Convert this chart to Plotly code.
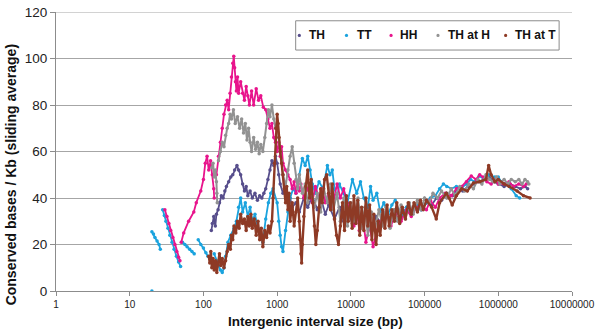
import plotly.graph_objects as go

# ---------------- data ----------------
x_tick_vals = [1, 10, 100, 1000, 10000, 100000, 1000000, 10000000]
x_tick_text = ["1", "10", "100", "1000", "10000", "100000", "1000000", "10000000"]
y_tick_vals = [0, 20, 40, 60, 80, 100, 120]

series_names = ["TH", "TT", "HH", "TH at H", "TH at T"]
series_colors = ["#574E8C", "#1AA3DE", "#E8148C", "#929292", "#8E3A25"]

th_x = [128, 132, 138, 145, 150, 158, 165, 175, 185, 195, 205,
        220, 235, 250, 265, 285, 300, 320, 340, 360, 380,
        400, 430, 460, 500, 540, 580, 620, 660, 700, 750,
        800, 850, 900, 950, 1000, 1050, 1100, 1200, 1300, 1400,
        1500, 1600, 1800, 2000, 2300, 2600, 3000, 3500, 4000, 4500,
        5000, 6000, 7000, 8000, 9000, 10500, 12000, 14000, 16000, 19000,
        22000, 26000, 30000, 35000, 40000, 48000, 57000, 66000, 78000, 90000,
        106000, 125000, 145000, 170000, 200000, 240000, 280000, 330000, 390000, 460000,
        540000, 640000, 750000, 880000, 1000000, 1200000, 1450000, 1700000, 2000000, 2300000,
        2500000]
th_y = [26, 29, 32, 28, 33, 35, 38, 41, 40, 43, 45,
        47, 49, 50, 52, 54, 52, 50, 46, 43, 45,
        41, 43, 40, 42, 39, 41, 40, 42, 44, 48,
        52, 56, 54, 58, 55, 50, 46, 42, 44, 38,
        40, 36, 38, 34, 40, 36, 41, 35, 39, 33,
        37, 31, 36, 30, 35, 29, 34, 28, 33, 27,
        32, 29, 34, 30, 35, 31, 36, 33, 37, 35,
        38, 37, 40, 39, 42, 41, 44, 43, 45, 46,
        47, 48, 49, 47, 46, 45, 46, 45, 44, 45,
        44]

tt_x = [20, None,
        20, 21, 22, 23.5, 25, 26, None,
        28, 29.5, 31, 33, 35, 37.5, 40, 43, 46, 49, None,
        52, 56, 60, 65, 70, 75, None,
        85, 92, 100, 108, 115, 125, None,
        140, 150, 160, 170, 180, 190, 200, 215, 235, 260, 280,
        300, 320, 340, 370, 400, 430, 460, 500, 550, 600, 640,
        700, 760, 820, 880,
        1000, 1050, 1100, 1150, 1200,
        1300, 1400, 1500, 1650, 1800,
        2000, 2200, 2400, 2600, 2800, 3000,
        3300, 3700, 4200,
        4800, 5200, 5600,
        6000, 6500, 7000,
        8000, 9000,
        10500, 12000, 13500, 15000,
        17000, 18500, 20000, 22500, 25000, 28000,
        32000, 36000, 40000, 44000,
        50000, 57000, 66000, 78000, 90000,
        106000, 120000,
        140000, 160000, 180000, 200000, 230000, 270000,
        320000, 370000, 420000, 480000,
        550000, 650000, 750000, 900000,
        1000000, 1100000, 1250000, 1500000, 1750000, 1950000]
tt_y = [0, None,
        25.5, 24.5, 23, 21.5, 20, 18, None,
        35, 32.5, 30, 27, 24, 21, 18, 15, 12.5, 10.5, None,
        21, 20, 19, 18, 17, 16, None,
        22, 20, 18.5, 16.5, 15, 14, None,
        16, 13, 11, 9, 8, 10, 15, 21, 24, 27, 30,
        36, 40, 34, 38, 32, 36, 30, 33, 27, 24, 21,
        31, 38, 42, 44,
        38, 30, 24, 19, 17,
        26, 34, 40, 44, 42,
        50, 57, 54, 58, 52, 46,
        42, 47, 44,
        54, 50, 52,
        44, 40, 46,
        42, 38,
        48, 42, 47, 40,
        36, 45, 39, 42, 34, 38,
        33, 37, 39, 35,
        33, 36, 34, 37, 35,
        38, 40,
        41, 44, 46, 45, 44, 45,
        44.5, 46, 48, 47,
        49.5, 48, 50, 49,
        49, 47, 46, 44, 41, 40]

hh_x = [30, 32, 34, 36, 38.5, 41, 43.5, 46, 48, None,
        50, 54, 63, 74, 80, 92, 100, 106, 112, 118, 125, 132, 138, 140, None,
        150, 160, 170, 180, 190, 200, 210, 220, 230, 240,
        250, 258, 265, 272, 280, 290, 300,
        320, 340, 360, 380, 400, 420,
        450, 480, 520, 560, 600, 650,
        700, 750, 800, 850, 900, 950, 1000,
        1050, 1100, 1150, 1200, 1300, 1400,
        1500, 1600, 1700, 1800, 1900, 2000, 2100,
        2300, 2600, 3000, 3300, 3700, 4100, 4500,
        5000, 5600, 6500, 7200, 8000, 8900,
        10000, 11000, 12000, 13000, 14500, 16000, 18000, 20000, 22500, 25000,
        30000, 35000, 40000, 48000, 57000, 66000, 78000,
        90000, 106000, 120000, 140000, 160000,
        190000, 230000, 270000, 320000, 370000, 430000, 500000,
        560000, 620000, 700000, 800000, 900000, 1000000,
        1200000, 1400000, 1600000, 1900000, 2200000, 2400000]
hh_y = [35, 32, 29, 26, 23, 20, 17, 14.5, 13, None,
        21, 25, 30, 34, 38, 43, 48, 55, 58, 52, 56, 50, 44, 40, None,
        50, 58, 64, 70, 76, 80, 82, 78, 85, 92,
        98, 101, 96, 90, 86, 92, 85,
        90, 85, 82, 88, 84, 80,
        86, 80, 87, 82, 84, 79,
        78, 74, 70, 72, 66, 64, 60,
        64, 58, 62, 55, 52, 50,
        48, 44, 47, 42, 45, 43, 46,
        40, 44, 38, 45, 40, 44, 38,
        42, 36, 46, 40, 44, 38,
        34, 28, 36, 26, 32, 21, 28, 19, 26, 30,
        34, 28, 33, 30, 35, 32, 36,
        37, 35, 39, 36, 40,
        42, 41, 44, 45, 47, 49.5, 48,
        50, 49, 47, 46, 48, 46,
        46, 47, 45, 46, 45, 46]

thh_x = [130, 135, 140, 145, 150, 152, 154, None,
         160, 170, 180, 190, 200, 210, 220, 230, 240, 255,
         270, 290, 310, 330, 350, 370, 390, 410, 430, 450,
         480, 510, 540, 570, 600, 640, 680, 720, 760, 800,
         850, 900, 950, 1000, 1050, 1100, 1150, 1200, 1300, 1400,
         1500, 1600, 1700, 1800, 1900, 2000, 2200, 2400, 2600, 2900,
         3200, 3500, 3900, 4300, 4800, 5300, 5800, 6500, 7200, 8000,
         9000, 10000, 11000, 12500, 14000, 15500, 17000, 19000, 21000, 24000,
         27000, 30000, 34000, 38000, 43000, 48000, 55000, 62000, 70000, 80000,
         90000, 100000, 115000, 130000, 150000, 170000, 200000, 230000, 260000, 300000,
         350000, 400000, 460000, 530000, 600000, 680000, 760000, 850000, 950000, 1050000,
         1200000, 1350000, 1500000, 1700000, 1900000, 2100000, 2300000, 2500000, 2600000]
thh_y = [53, 55, 49, 52, 47, 42, 38, None,
         56, 60, 64, 62, 67, 70, 72, 76, 74, 78,
         72, 75, 70, 74, 68, 72, 65, 70, 64, 60,
         66, 61, 64, 59, 63, 60, 66, 72, 78, 75,
         80, 74, 70, 72, 66, 60, 56, 50, 45, 52,
         58, 62, 55, 48, 44, 50, 42, 46, 38, 44,
         36, 42, 34, 44, 38, 46, 35, 42, 30, 40,
         28, 38, 30, 40, 27, 36, 24, 34, 26, 35,
         28, 36, 27, 35, 30, 37, 31, 38, 33, 39,
         35, 40, 38, 42, 40, 43, 40, 44, 41, 45,
         43, 46, 44, 48, 46, 50, 48, 47, 49, 46,
         48, 46, 48, 47, 48, 46, 48, 47, 46]

tht_x = [118, 122, 126, 130, 135, 140, 146, 152, 158, 165,
         172, 180, 190, 200, 210, 220, 232, 240, 250, 260,
         275, 290, 305, 320, 340, 360, 380, 400, 420, 440,
         460, 490, 520, 550, 580, 610, 640, 680, 720, 760,
         800, 850, 880, 920, 960, 1000, 1030, 1060, 1100, 1150,
         1200, 1250, 1300, 1350, 1400, 1450, 1500, 1600, 1700, 1800,
         1900, 2000, 2050, 2100, 2150, 2200, 2300, 2450, 2600, 2750,
         2900, 3050, 3200, 3350, 3500, 3700, 3900, 4100, 4400, 4700,
         5000, 5300, 5600, 6000, 6400, 6800, 7200, 7700, 8200, 8700,
         9200, 9800, 10400, 11000, 11700, 12400, 13200, 14000, 15000, 16000,
         17000, 18000, 19300, 20500, 22000, 23500, 25000, 27000, 29000, 31000,
         33000, 36000, 39000, 42000, 46000, 50000, 55000, 60000, 66000, 72000,
         80000, 88000, 96000, 106000, 125000, 144000, 160000, 197000, 215000, 237000,
         270000, 320000, 380000, 460000, 560000, 680000, 740000, 800000, 900000, 1000000,
         1200000, 1400000, 1800000, 2200000, 2700000]
tht_y = [15, 12, 17, 10, 14, 9, 13, 8, 12, 16,
         11, 14, 10, 13, 17, 20, 18, 24, 22, 28,
         25, 30, 27, 33, 29, 31, 26, 32, 28, 33,
         27, 31, 24, 30, 22, 27, 19, 26, 23, 28,
         25, 30, 40, 55, 70, 76, 72, 66, 60, 55,
         50, 44, 38, 45, 35, 42, 30, 38, 28, 34,
         40, 30, 22, 16, 12, 20, 32, 45, 52, 40,
         48, 38, 28, 20, 26, 36, 44, 38, 48, 50,
         42, 35, 46, 31, 24, 20, 28, 38, 26, 41,
         30, 38, 27, 41, 29, 39, 24, 36, 26, 40,
         28, 37, 22, 33, 20, 30, 24, 35, 27, 37,
         28, 35, 30, 38, 29, 36, 31, 38, 33, 38,
         34, 39, 35, 39, 36, 31, 38, 42, 40, 37,
         41, 44, 43, 46.5, 47, 48, 54, 50, 47, 48,
         46, 45, 43, 41, 40]

series_x = [th_x, tt_x, hh_x, thh_x, tht_x]
series_y = [th_y, tt_y, hh_y, thh_y, tht_y]
series_widths = [1.8, 1.8, 1.8, 2.0, 2.4]

# ---------------- layout helpers (pixels -> paper) ----------------
W, H = 600, 336
L, R, T, B = 56, 23, 5, 45
PW, PH = W - L - R, H - T - B


def px(xp):
    return (xp - L) / PW


def py(yp):
    return (H - B - yp) / PH


FONT = "Arial, Liberation Sans, sans-serif"

fig = go.Figure()
for name, color, xs, ys, lw in zip(series_names, series_colors, series_x, series_y, series_widths):
    fig.add_trace(go.Scatter(
        x=xs, y=ys, name=name, mode="lines+markers",
        line=dict(color=color, width=lw),
        marker=dict(color=color, size=3.5),
        showlegend=False, hoverinfo="skip",
    ))

# top gridline (plotly omits the one on the plot edge)
shapes = [dict(type="line", xref="paper", yref="y", x0=0, x1=1,
               y0=y_tick_vals[-1], y1=y_tick_vals[-1],
               line=dict(color="#A6A6A6", width=1), layer="below")]

# ---------------- legend (drawn as layout items) ----------------
legend_marker_px = [301.7, 349.3, 394.3, 441.7, 510.0]
legend_text_px = [309.5, 357.5, 401.5, 449.5, 517.5]
shapes.append(dict(type="rect", xref="paper", yref="paper",
                   x0=px(298), x1=px(564), y0=py(44), y1=py(14),
                   line=dict(color="#8C8C8C", width=1), fillcolor="white", layer="above"))
annotations = []
for name, color, mx, tx in zip(series_names, series_colors, legend_marker_px, legend_text_px):
    shapes.append(dict(type="circle", xref="paper", yref="paper",
                       xsizemode="pixel", ysizemode="pixel",
                       xanchor=px(mx), yanchor=py(29),
                       x0=-1.6, x1=1.6, y0=-1.6, y1=1.6,
                       fillcolor=color, line=dict(width=0), layer="above"))
    annotations.append(dict(xref="paper", yref="paper", x=px(tx), y=py(29),
                            xanchor="left", yanchor="middle", showarrow=False,
                            text="<b>%s</b>" % name,
                            font=dict(family=FONT, size=12, color="#111")))

annotations.append(dict(xref="paper", yref="paper", x=px(10), y=py(172),
                        xanchor="center", yanchor="middle", showarrow=False,
                        textangle=-90, text="<b>Conserved bases / Kb (sliding average)</b>",
                        font=dict(family=FONT, size=14, color="#111")))
annotations.append(dict(xref="paper", yref="paper", x=px(318), y=py(322),
                        xanchor="center", yanchor="middle", showarrow=False,
                        text="<b>Intergenic interval size (bp)</b>",
                        font=dict(family=FONT, size=13.5, color="#111")))

fig.update_layout(
    width=W, height=H,
    margin=dict(l=L, r=R, t=T, b=B, pad=0),
    paper_bgcolor="white", plot_bgcolor="white",
    font=dict(family=FONT, color="#222"),
    shapes=shapes, annotations=annotations,
    showlegend=False,
)
fig.update_xaxes(
    type="log", range=[0, 7],
    tickvals=x_tick_vals, ticktext=x_tick_text,
    tickfont=dict(size=10, color="#222"),
    showgrid=False, zeroline=False,
    showline=True, linecolor="#8C8C8C", linewidth=1,
    ticks="outside", ticklen=4, tickcolor="#8C8C8C",
    ticklabeloverflow="allow",
)
fig.update_yaxes(
    range=[0, 120], tickvals=y_tick_vals,
    tickfont=dict(size=13.5, color="#222"),
    showgrid=True, gridcolor="#A6A6A6", gridwidth=1,
    zeroline=False,
    showline=True, linecolor="#8C8C8C", linewidth=1,
    ticks="outside", ticklen=5, tickcolor="#8C8C8C",
    ticklabeloverflow="allow",
)

fig.write_html(
    "out.html",
    config={"displayModeBar": False},
    post_script="document.body.style.margin='0';document.body.style.overflow='hidden';",
)
